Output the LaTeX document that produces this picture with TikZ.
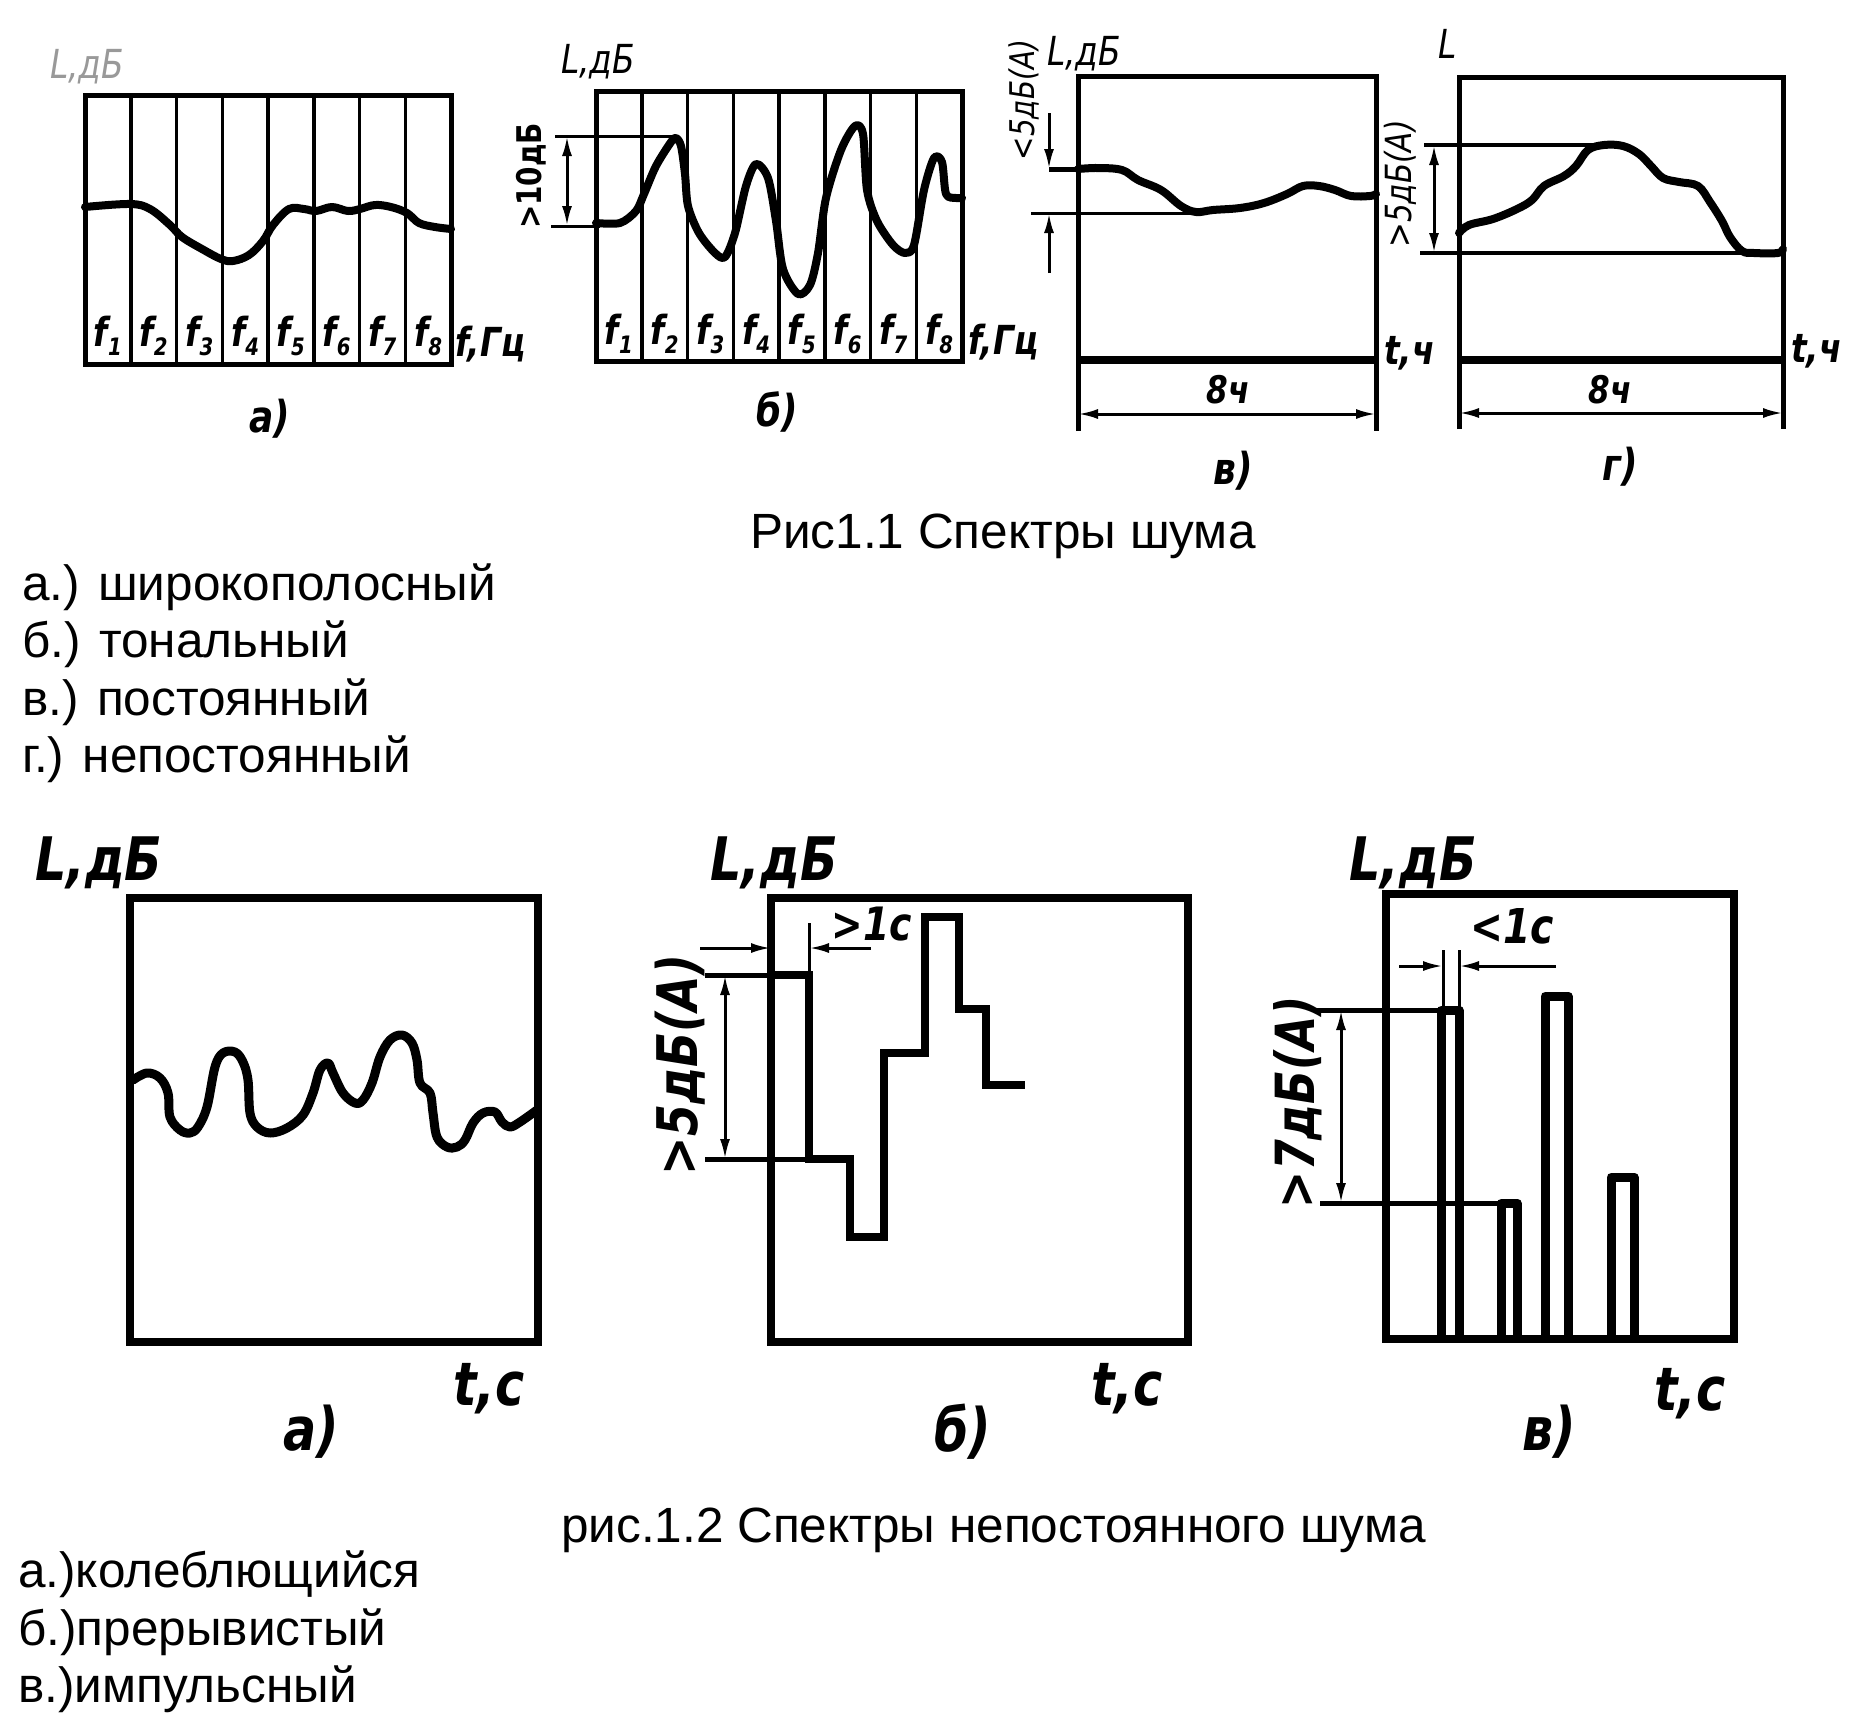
\documentclass[tikz,border=0pt]{standalone}
\usepackage{fontspec}
\setmainfont{Liberation Sans}
\newfontfamily\gost[FakeStretch=0.82]{DejaVu Sans}
\usetikzlibrary{arrows.meta}
\tikzset{>={Latex[length=20pt,width=10pt]}}
\newcommand\cptfont{\fontsize{49.5}{56}\selectfont}
\newcommand\fidx[1]{f\raisebox{-0.45ex}{\fontsize{24}{24}\selectfont#1}}
\tikzstyle{frame}=[line width=5pt]
\tikzstyle{heavy}=[line width=8pt]
\tikzstyle{divider}=[line width=3.5pt]
\tikzstyle{curve}=[line width=8pt,line cap=round,line join=round]
\tikzstyle{dim}=[line width=3pt]
\tikzstyle{caption}=[anchor=base west,inner sep=0pt,font=\cptfont]
\tikzstyle{uplbl}=[inner sep=0pt,font=\gost\itshape\fontsize{40}{40}\selectfont]
\tikzstyle{upbold}=[inner sep=0pt,font=\gost\bfseries\itshape\fontsize{40}{40}\selectfont]
\tikzstyle{lowlbl}=[inner sep=0pt,font=\gost\bfseries\itshape\fontsize{60}{60}\selectfont]

\begin{document}
\begin{tikzpicture}[x=1pt,y=-1pt]
  \useasboundingbox (0,0) rectangle (1862,1732);

  % Рис 1.1 a)
  \draw[frame] (85,95) rectangle (451,364);
  \foreach \k in {1,...,7} \draw[divider] ({85+45.75*\k},95) -- ({85+45.75*\k},364);
  \foreach \k in {1,...,8} \node[upbold,anchor=base] (fa\k) at ({85+45.75*(\k-0.5)},346) {\fidx{\k}};
  \draw[curve] plot[smooth,tension=0.6] coordinates {(85,207) (130,204) (150,209) (170,225) (182,237) (202,249) (221,259) (233,261) (249,255) (263,241) (273,225) (289,209) (304,209) (316,211) (332,207) (348,211) (360,209) (375,205) (391,207) (407,213) (419,223) (435,227) (451,229)};
  \node[uplbl,anchor=base west,text=black!40] (La) at (50,78) {L,дБ};
  \node[upbold,anchor=base west] (fGa) at (455,356) {f,Гц};
  \node[upbold,font=\gost\bfseries\itshape\fontsize{44}{44}\selectfont] (ma) at (270,419) {а)};

  % b)
  \draw[frame] (596,91) rectangle (962,361);
  \foreach \k in {1,...,7} \draw[divider] ({596+45.75*\k},91) -- ({596+45.75*\k},361);
  \foreach \k in {1,...,8} \node[upbold,anchor=base] (fb\k) at ({596+45.75*(\k-0.5)},344) {\fidx{\k}};
  \draw[curve] plot[smooth,tension=0.5] coordinates {(596,223) (620,223) (636,211) (644,194) (656,166) (671,142) (676,138) (681,146) (685,174) (688,206) (699,233) (715,253) (725,257) (735,233) (746,186) (756,164) (768,178) (776,221) (783,269) (798,294) (810,285) (818,253) (826,198) (841,150) (855,126) (863,134) (867,190) (877,221) (893,245) (905,253) (914,245) (924,190) (934,158) (942,162) (946,194) (956,198) (962,198)};
  \draw[dim] (555,136) -- (676,136);
  \draw[dim] (551,226) -- (600,226);
  \draw[dim,<->] (567,136) -- (567,226);
  \node[upbold,rotate=90,font=\gost\bfseries\fontsize{34}{34}\selectfont] (db10) at (531,176) {>10дБ};
  \node[uplbl,anchor=base west] (Lb) at (561,73) {L,дБ};
  \node[upbold,anchor=base west] (fGb) at (968,354) {f,Гц};
  \node[upbold,font=\gost\bfseries\itshape\fontsize{44}{44}\selectfont] (mb) at (777,412) {б)};

  % v)
  \draw[frame] (1078,431) -- (1078,76) -- (1376,76) -- (1376,431);
  \draw[heavy] (1078,360) -- (1376,360);
  \draw[dim,<->] (1078,414) -- (1376,414);
  \draw[line width=5pt] (1049,169) -- (1078,169);
  \draw[curve] plot[smooth,tension=0.6] coordinates {(1078,169) (1098,168) (1122,170) (1138,180) (1161,190) (1181,206) (1196,212) (1213,210) (1240,208) (1264,203) (1287,194) (1303,186) (1319,186) (1335,190) (1351,196) (1370,196) (1376,194)};
  \draw[dim] (1031,213) -- (1195,213);
  \draw[dim,->] (1049,113) -- (1049,169);
  \draw[dim,->] (1049,273) -- (1049,213);
  \node[uplbl,rotate=90,font=\gost\itshape\fontsize{34}{34}\selectfont] (db5v) at (1024,100) {<5дБ(A)};
  \node[uplbl,anchor=base west] (Lv) at (1047,65) {L,дБ};
  \node[upbold,anchor=base west] (tv) at (1384,364) {t,ч};
  \node[upbold,font=\gost\bfseries\itshape\fontsize{38}{38}\selectfont] (hv) at (1228,390) {8ч};
  \node[upbold,font=\gost\bfseries\itshape\fontsize{44}{44}\selectfont] (mv) at (1233,471) {в)};

  % g)
  \draw[frame] (1459,429) -- (1459,77) -- (1783,77) -- (1783,429);
  \draw[heavy] (1459,360) -- (1783,360);
  \draw[dim,<->] (1459,413) -- (1783,413);
  \draw[curve] plot[smooth,tension=0.6] coordinates {(1459,233) (1469,225) (1493,219) (1517,209) (1532,200) (1544,186) (1564,176) (1576,166) (1588,150) (1604,145) (1623,146) (1639,154) (1651,166) (1663,178) (1679,182) (1698,186) (1710,202) (1722,221) (1730,237) (1742,251) (1754,253) (1778,253) (1783,249)};
  \draw[line width=4pt] (1424,145) -- (1600,145);
  \draw[line width=4pt] (1420,253) -- (1783,253);
  \draw[dim,<->] (1434,145) -- (1434,253);
  \node[uplbl,rotate=90,font=\gost\itshape\fontsize{36}{36}\selectfont] (db5g) at (1400,184) {>5дБ(A)};
  \node[uplbl,anchor=base west] (Lg) at (1438,58) {L};
  \node[upbold,anchor=base west] (tg) at (1791,362) {t,ч};
  \node[upbold,font=\gost\bfseries\itshape\fontsize{38}{38}\selectfont] (hg) at (1610,390) {8ч};
  \node[upbold,font=\gost\bfseries\itshape\fontsize{44}{44}\selectfont] (mg) at (1620,467) {г)};

  \node[caption] (cap1) at (750,548) {Рис1.1 Спектры шума};
  \node[caption] (la1) at (22,600) {а.) широкополосный};
  \node[caption] (la2) at (22,657) {б.) тональный};
  \node[caption] (la3) at (22,715) {в.) постоянный};
  \node[caption] (la4) at (22,772) {г.) непостоянный};

  % Рис 1.2 a)
  \draw[heavy] (130,898) rectangle (538,1342);
  \draw[curve,line width=9pt] plot[smooth,tension=0.6] coordinates {(133,1080) (147,1073) (160,1078) (168,1093) (170,1117) (180,1130) (190,1133) (198,1127) (207,1107) (215,1067) (223,1053) (235,1052) (243,1062) (248,1080) (250,1113) (257,1127) (270,1133) (287,1128) (303,1115) (313,1093) (320,1070) (328,1063) (333,1073) (343,1093) (355,1103) (363,1100) (372,1083) (380,1057) (390,1040) (402,1035) (412,1043) (417,1060) (420,1083) (430,1093) (433,1113) (437,1137) (447,1147) (457,1147) (465,1140) (473,1123) (483,1113) (495,1112) (502,1122) (510,1127) (520,1122) (537,1110)};
  \node[lowlbl,anchor=base west] (LA) at (35,880) {L,дБ};
  \node[lowlbl,anchor=base west] (tA) at (453,1405) {t,c};
  \node[lowlbl] (mA) at (311,1432) {а)};

  % b)
  \draw[heavy] (771,898) rectangle (1188,1342);
  \draw[curve,line cap=butt,line join=miter] (771,975) -- (809,975) -- (809,1159) -- (850,1159) -- (850,1237) -- (884,1237) -- (884,1053) -- (925,1053) -- (925,917) -- (959,917) -- (959,1009) -- (986,1009) -- (986,1085) -- (1025,1085);
  \draw[line width=5pt] (705,975) -- (771,975);
  \draw[line width=5pt] (705,1159) -- (809,1159);
  \draw[dim,<->] (725,975) -- (725,1159);
  \draw[dim] (809,923) -- (809,975);
  \draw[dim,->] (700,948) -- (771,948);
  \draw[dim,->] (871,948) -- (809,948);
  \node[lowlbl,rotate=90,font=\gost\bfseries\itshape\fontsize{56}{56}\selectfont] (db5B) at (680,1065) {>5дБ(A)};
  \node[lowlbl,font=\gost\bfseries\itshape\fontsize{46}{46}\selectfont] (s1B) at (872,924) {>1c};
  \node[lowlbl,anchor=base west] (LB) at (710,880) {L,дБ};
  \node[lowlbl,anchor=base west] (tB) at (1091,1405) {t,c};
  \node[lowlbl] (mB) at (963,1432) {б)};

  % v)
  \draw[heavy] (1386,894) rectangle (1734,1339);
  \draw[curve,line width=9pt,line cap=butt] (1441,1339) -- (1441,1010) -- (1459,1010) -- (1459,1339);
  \draw[curve,line width=9pt,line cap=butt] (1501,1339) -- (1501,1203) -- (1517,1203) -- (1517,1339);
  \draw[curve,line width=9pt,line cap=butt] (1545,1339) -- (1545,996) -- (1568,996) -- (1568,1339);
  \draw[curve,line width=9pt,line cap=butt] (1611,1339) -- (1611,1177) -- (1634,1177) -- (1634,1339);
  \draw[line width=5pt] (1316,1010) -- (1459,1010);
  \draw[line width=5pt] (1320,1203) -- (1517,1203);
  \draw[dim,<->] (1341,1010) -- (1341,1203);
  \draw[dim] (1443,950) -- (1443,1010);
  \draw[dim] (1459,950) -- (1459,1010);
  \draw[dim,->] (1399,966) -- (1443,966);
  \draw[dim,->] (1556,966) -- (1459,966);
  \node[lowlbl,rotate=90,font=\gost\bfseries\itshape\fontsize{54}{54}\selectfont] (db7C) at (1298,1102) {>7дБ(A)};
  \node[lowlbl,font=\gost\bfseries\itshape\fontsize{48}{48}\selectfont] (s1C) at (1512,926) {<1c};
  \node[lowlbl,anchor=base west] (LC) at (1349,880) {L,дБ};
  \node[lowlbl,anchor=base west] (tC) at (1654,1410) {t,c};
  \node[lowlbl] (mC) at (1549,1432) {в)};

  \node[caption] (cap2) at (561,1542) {рис.1.2 Спектры непостоянного шума};
  \node[caption] (lb1) at (18,1587) {а.)колеблющийся};
  \node[caption] (lb2) at (18,1645) {б.)прерывистый};
  \node[caption] (lb3) at (18,1702) {в.)импульсный};
\end{tikzpicture}
\end{document}
